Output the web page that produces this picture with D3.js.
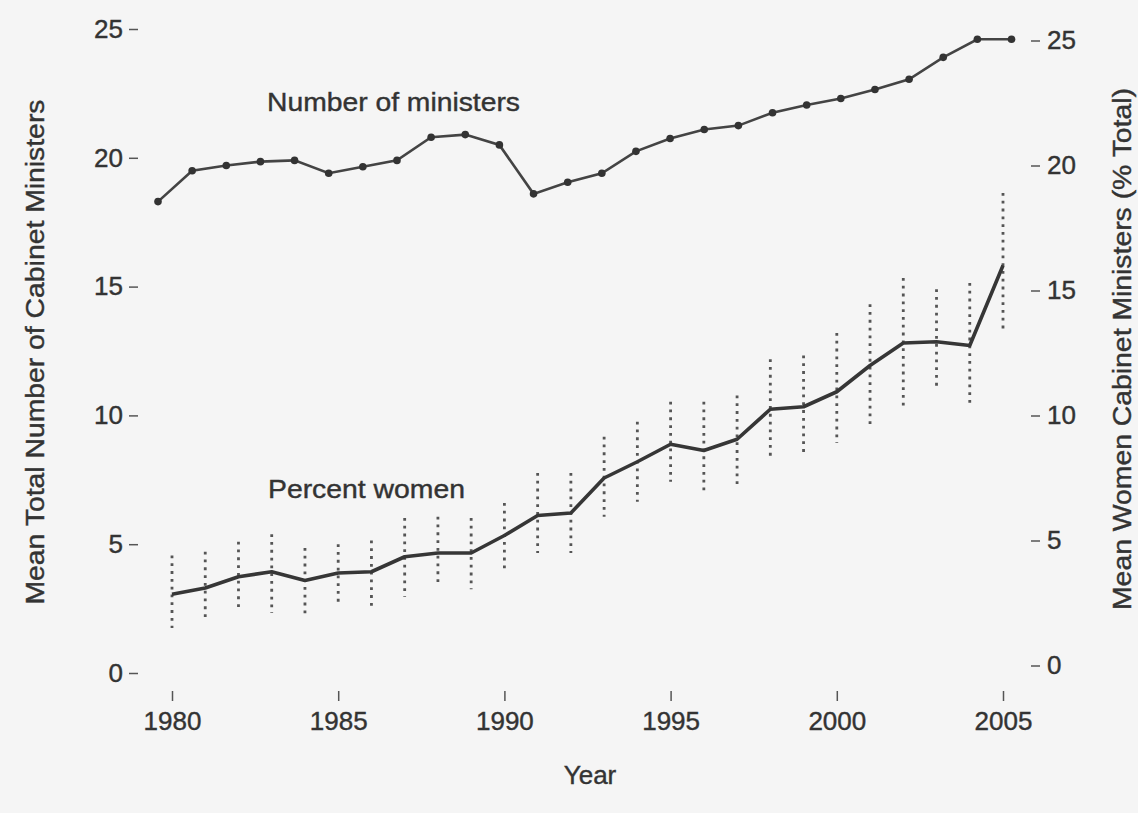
<!DOCTYPE html>
<html>
<head>
<meta charset="utf-8">
<script src="https://d3js.org/d3.v7.min.js"></script>
<style>
  body { margin: 0; background: #f5f5f5; }
  text { font-family: "Liberation Sans", Arial, Helvetica, sans-serif; fill: #333; }
</style>
</head>
<body>
<div id="chartContainer"></div>
<script type="text/javascript">
  // data
  var years = d3.range(1980, 2006);
  var ministers = [18.3, 19.5, 19.7, 19.85, 19.9, 19.4, 19.65, 19.9, 20.8, 20.9, 20.5, 18.6, 19.05,
                   19.4, 20.25, 20.75, 21.1, 21.25, 21.75, 22.05, 22.3, 22.65, 23.05, 23.9, 24.6, 24.6];
  var women = [2.85, 3.1, 3.55, 3.75, 3.4, 3.7, 3.75, 4.35, 4.5, 4.5, 5.2, 6.0, 6.1,
               7.5, 8.15, 8.85, 8.6, 9.05, 10.25, 10.35, 10.95, 12.0, 12.9, 12.95, 12.8, 16.0];
  var womenHigh = [4.4, 4.55, 4.95, 5.25, 4.7, 4.85, 5.0, 5.9, 5.95, 5.9, 6.5, 7.7, 7.7,
                   9.15, 9.75, 10.55, 10.55, 10.8, 12.25, 12.4, 13.3, 14.45, 15.5, 15.05, 15.3, 18.9];
  var womenLow = [1.5, 1.75, 2.15, 2.1, 2.0, 2.45, 2.35, 2.75, 3.15, 3.05, 3.7, 4.5, 4.5,
                  5.95, 6.55, 7.35, 6.9, 7.25, 8.25, 8.4, 8.9, 9.65, 10.35, 11.0, 10.5, 13.3];
  var yTicks = [0, 5, 10, 15, 20, 25];
  var xTicks = [1980, 1985, 1990, 1995, 2000, 2005];

  var width = 1138,
      height = 813;

  var svg = d3.select("#chartContainer")
      .append("svg")
      .attr("width", width)
      .attr("height", height);

  svg.append("rect").attr("width", width).attr("height", height).attr("fill", "#f5f5f5");

  // two overlaid panels in the original, slightly different placements
  var xW = d3.scaleLinear().domain([1980, 2005]).range([172, 1003]);
  var xM = d3.scaleLinear().domain([1980, 2005]).range([158, 1011.5]);
  var yL = d3.scaleLinear().domain([0, 25]).range([673, 29]);
  var yR = d3.scaleLinear().domain([0, 25]).range([665.5, 40.5]);

  var fontSize = "26px";

  // axes (ticks only, no axis line)
  var left = svg.append("g")
      .attr("transform", "translate(138,0)")
      .call(d3.axisLeft(yL).tickValues(yTicks).tickSize(9).tickPadding(6));
  var right = svg.append("g")
      .attr("transform", "translate(1031,0)")
      .call(d3.axisRight(yR).tickValues(yTicks).tickSize(9).tickPadding(7));
  var bottom = svg.append("g")
      .attr("transform", "translate(0,691)")
      .call(d3.axisBottom(xW).tickValues(xTicks).tickFormat(d3.format("d")).tickSize(10).tickPadding(11));

  [left, right, bottom].forEach(function (g) {
    g.select(".domain").remove();
    g.selectAll(".tick line").attr("stroke", "#555").attr("stroke-width", 1.5);
    g.selectAll(".tick text")
      .style("font-size", fontSize)
      .style("font-family", "'Liberation Sans', Arial, sans-serif")
      .attr("fill", "#333")
      .attr("stroke", "#333")
      .attr("stroke-width", 0.4);
  });

  // axis titles
  svg.append("text")
    .attr("x", 590).attr("y", 784)
    .attr("text-anchor", "middle")
    .attr("stroke", "#333").attr("stroke-width", 0.4)
    .style("font-size", fontSize)
    .text("Year");

  svg.append("text")
    .attr("transform", "translate(44,352) rotate(-90)")
    .attr("text-anchor", "middle")
    .attr("textLength", 505)
    .attr("lengthAdjust", "spacingAndGlyphs")
    .attr("stroke", "#333").attr("stroke-width", 0.4)
    .style("font-size", fontSize)
    .text("Mean Total Number of Cabinet Ministers");

  svg.append("text")
    .attr("transform", "translate(1131,349) rotate(-90)")
    .attr("text-anchor", "middle")
    .attr("textLength", 522)
    .attr("lengthAdjust", "spacingAndGlyphs")
    .attr("stroke", "#333").attr("stroke-width", 0.4)
    .style("font-size", "25px")
    .text("Mean Women Cabinet Ministers (% Total)");

  // error bars for percent women (dotted)
  svg.selectAll(".ebar")
    .data(years)
    .enter()
    .append("line")
    .attr("class", "ebar")
    .attr("x1", function (d) { return xW(d); })
    .attr("x2", function (d) { return xW(d); })
    .attr("y1", function (d, i) { return yR(womenHigh[i]); })
    .attr("y2", function (d, i) { return yR(womenLow[i]); })
    .attr("stroke", "#555")
    .attr("stroke-width", 2.8)
    .attr("stroke-dasharray", "2.8,5")
    .attr("stroke-linecap", "butt");

  // percent women line
  var lineW = d3.line()
      .x(function (d, i) { return xW(years[i]); })
      .y(function (d) { return yR(d); });
  svg.append("path")
    .datum(women)
    .attr("d", lineW)
    .attr("fill", "none")
    .attr("stroke", "#363636")
    .attr("stroke-width", 3.6)
    .attr("stroke-linejoin", "round");

  // number of ministers line with points
  var lineM = d3.line()
      .x(function (d, i) { return xM(years[i]); })
      .y(function (d) { return yL(d); });
  svg.append("path")
    .datum(ministers)
    .attr("d", lineM)
    .attr("fill", "none")
    .attr("stroke", "#444")
    .attr("stroke-width", 2.6);

  svg.selectAll(".mpt")
    .data(ministers)
    .enter()
    .append("circle")
    .attr("class", "mpt")
    .attr("cx", function (d, i) { return xM(years[i]); })
    .attr("cy", function (d) { return yL(d); })
    .attr("r", 3.8)
    .attr("fill", "#333");

  // in-plot labels
  svg.append("text")
    .attr("x", 267).attr("y", 111)
    .attr("textLength", 253)
    .attr("lengthAdjust", "spacingAndGlyphs")
    .attr("stroke", "#333").attr("stroke-width", 0.4)
    .style("font-size", fontSize)
    .text("Number of ministers");

  svg.append("text")
    .attr("x", 268).attr("y", 498)
    .attr("textLength", 197)
    .attr("lengthAdjust", "spacingAndGlyphs")
    .attr("stroke", "#333").attr("stroke-width", 0.4)
    .style("font-size", fontSize)
    .text("Percent women");
</script>
</body>
</html>
